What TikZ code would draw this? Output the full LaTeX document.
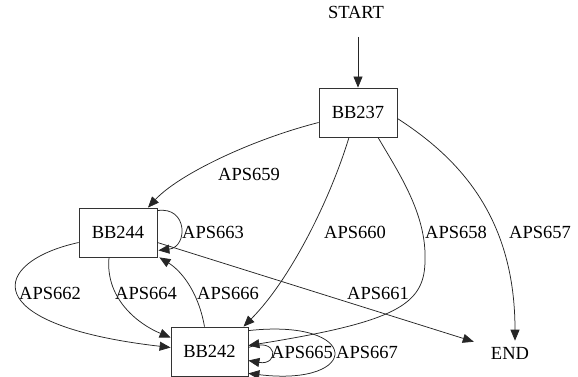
\documentclass[tikz,border=0pt]{standalone}
\usepackage{fontspec}
\setmainfont{Liberation Serif}
\usetikzlibrary{arrows.meta,calc}
\begin{document}
\begin{tikzpicture}[x=1pt,y=-1pt,
  every node/.style={font=\fontsize{18.5}{21}\selectfont, inner sep=0pt},
  bb/.style={draw=black!80, line width=0.8pt, minimum width=78pt, minimum height=49pt},
  lbl/.style={anchor=center},
  arr/.style={draw=black!85, line width=0.75pt, -{Triangle[length=11pt,width=9pt]}}]
\useasboundingbox (0,0) rectangle (578,377);

% blocks
\node[bb] (b237) at (358,112.5) {BB237};
\node[bb] (b244) at (118,232.5) {BB244};
\node[bb, minimum width=77pt] (b242) at (209.5,351.5) {BB242};
\node (start) at (356,12.5) {START};
\node (end) at (510,353) {END};

% edge labels
\node[lbl] (l659) at (249,174) {APS659};
\node[lbl] (l663) at (213,232) {APS663};
\node[lbl] (l660) at (355,232) {APS660};
\node[lbl] (l658) at (456,232) {APS658};
\node[lbl] (l657) at (540,232) {APS657};
\node[lbl] (l661) at (378,293) {APS661};
\node[lbl] (l662) at (50,293) {APS662};
\node[lbl] (l664) at (146,293) {APS664};
\node[lbl] (l666) at (228,293) {APS666};
\node[lbl] (l665) at (302,352) {APS665};
\node[lbl] (l667) at (367,352) {APS667};

% edges
\draw[arr, shorten <=24.5pt] (start.center -| b237.north) -- (b237.north);

\draw[arr] ($(b237.west)+(0,10)$) .. controls (250,140) and (178,175) .. ($(b244.north)+(30,0)$);

\draw[arr] ($(b244.north east)+(0,3)$) .. controls (188,206) and (188,247) .. ($(b244.south east)+(1,-7)$);

\draw[arr] ($(b237.south)+(-9,0)$) .. controls (330,200) and (290,280) .. ($(b242.north)+(34,0)$);

\draw[arr] ($(b237.south)+(20,0)$) .. controls (400,175) and (427,215) .. (425,262)
  .. controls (424,305) and (395,322) .. ($(b242.east)+(0,-6)$);

\draw[arr] ($(b237.east)+(0,6)$) .. controls (462,160) and (515,220) .. ($(end.north)+(5,-6)$);

\draw[arr] ($(b244.east)+(0,10)$) -- ($(end.north west)+(-17,-5)$);

\draw[arr] ($(b244.west)+(0,10)$) .. controls (-10,262) and (-25,325) .. ($(b242.west)+(0,-4)$);

\draw[arr] ($(b244.south)+(-9,0)$) .. controls (105,300) and (140,325) .. ($(b242.west)+(0,-14)$);

\draw[arr] ($(b242.north)+(-5,0)$) .. controls (198,290) and (180,270) .. ($(b244.south east)+(2,0)$);

\draw[arr] ($(b242.east)+(0,-4)$) .. controls (279,336) and (279,366) .. ($(b242.east)+(0,9)$);

\draw[arr] ($(b242.north east)+(0,4)$) .. controls (362,318) and (362,387) .. ($(b242.south east)+(0,-3)$);
\end{tikzpicture}
\end{document}
